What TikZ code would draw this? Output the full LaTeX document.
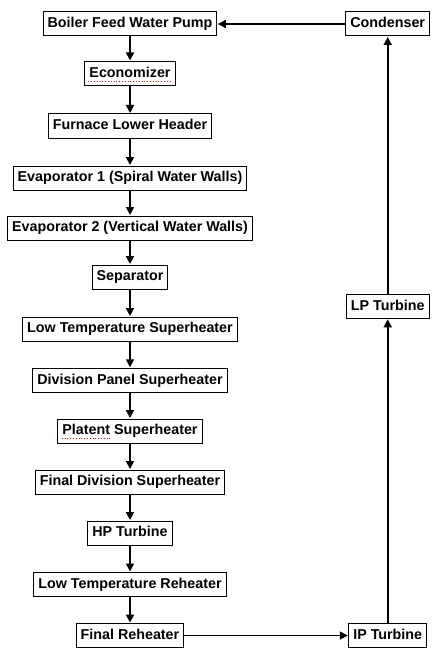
\documentclass[tikz,border=0pt]{standalone}
\usepackage{fontspec}
\setmainfont{Liberation Sans}
\usetikzlibrary{arrows.meta}
\begin{document}
\begin{tikzpicture}[x=1pt,y=-1pt,
  box/.style={draw=black,line width=1pt,fill=white,font=\fontsize{14.3}{16}\selectfont\bfseries,
    inner xsep=4.5pt,inner ysep=3pt,minimum height=24pt,text height=10.5pt,text depth=3pt},
  flow/.style={line width=1.7pt,-{Triangle[length=8pt,width=8pt]},shorten >=0.5pt},
  spell/.style={red,dotted,line width=0.8pt}]
\useasboundingbox (0,0) rectangle (438,658);
\fill[white] (0,0) rectangle (438,658);
\node[box] (bfp) at (130,24) {Boiler Feed Water Pump};
\node[box] (eco) at (130,73.5) {Economizer};
\node[box] (flh) at (130,126) {Furnace Lower Header};
\node[box] (ev1) at (130,178) {Evaporator 1 (Spiral Water Walls)};
\node[box] (ev2) at (130,228) {Evaporator 2 (Vertical Water Walls)};
\node[box] (sep) at (130,277) {Separator};
\node[box] (lts) at (130,329) {Low Temperature Superheater};
\node[box] (dps) at (130,380.3) {Division Panel Superheater};
\node[box] (pls) at (130,431) {Platent Superheater};
\node[box] (fds) at (130,482) {Final Division Superheater};
\node[box] (hpt) at (130,533) {HP Turbine};
\node[box] (ltr) at (130,584.5) {Low Temperature Reheater};
\node[box] (frh) at (130,635.5) {Final Reheater};
\node[box] (ipt) at (387.7,635.5) {IP Turbine};
\node[box] (lpt) at (387.7,306.3) {LP Turbine};
\node[box] (con) at (387.7,24) {Condenser};
\draw[flow] (bfp) -- (eco);
\draw[flow] (eco) -- (flh);
\draw[flow] (flh) -- (ev1);
\draw[flow] (ev1) -- (ev2);
\draw[flow] (ev2) -- (sep);
\draw[flow] (sep) -- (lts);
\draw[flow] (lts) -- (dps);
\draw[flow] (dps) -- (pls);
\draw[flow] (pls) -- (fds);
\draw[flow] (fds) -- (hpt);
\draw[flow] (hpt) -- (ltr);
\draw[flow] (ltr) -- (frh);
\draw[flow] (frh) -- (ipt);
\draw[flow] (ipt) -- (lpt);
\draw[flow] (lpt) -- (con);
\draw[flow] (con) -- (bfp);
\draw[spell] (88.3,81.5) -- (171.7,81.5);
\draw[spell] (61.7,438.8) -- (110,438.8);
\end{tikzpicture}
\end{document}
